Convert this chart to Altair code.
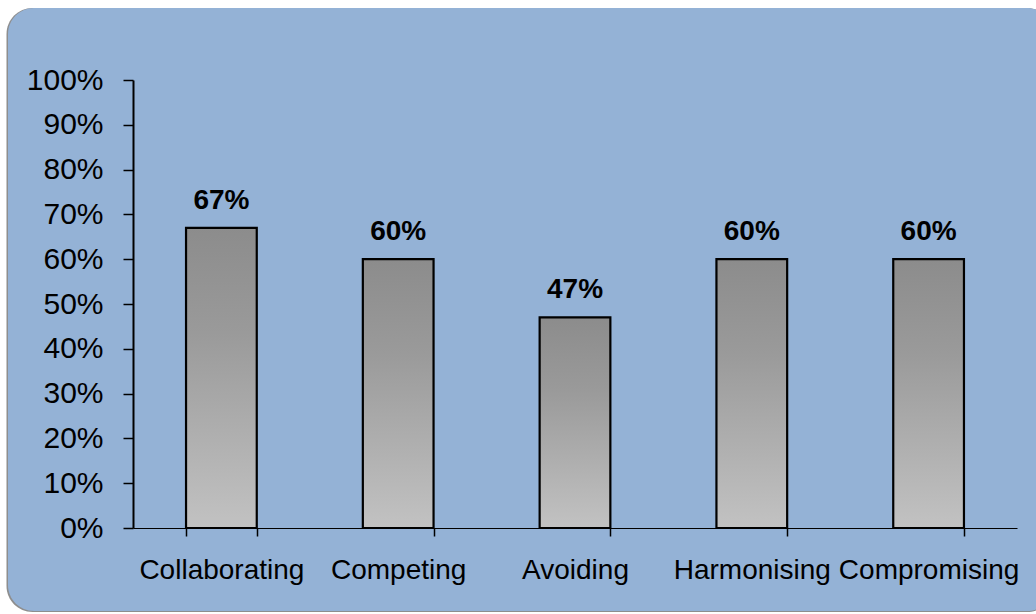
import altair as alt
import pandas as pd

# Conflict-handling styles and the share of respondents using each
styles = ["Collaborating", "Competing", "Avoiding", "Harmonising", "Compromising"]
shares = [0.67, 0.60, 0.47, 0.60, 0.60]
y_ticks = [0.0, 0.1, 0.2, 0.3, 0.4, 0.5, 0.6, 0.7, 0.8, 0.9, 1.0]

df = pd.DataFrame({"style": styles, "share": shares})

FONT = "Liberation Sans"
PANEL_BLUE = "#94B2D6"

x_enc = alt.X(
    "style:N",
    sort=styles,
    scale=alt.Scale(paddingInner=0.6, paddingOuter=0.3),
    axis=alt.Axis(
        title=None, labelAngle=0, tickBand="extent", tickSize=8, tickWidth=1.5,
        domainWidth=1.2, domainColor="black", tickColor="black",
        labelFont=FONT, labelFontSize=28, labelColor="black", labelPadding=20,
        labelLimit=0, labelOverlap=False, zindex=1,
    ),
)
y_enc = alt.Y(
    "share:Q",
    scale=alt.Scale(domain=[0, 1], nice=False),
    axis=alt.Axis(
        title=None, values=y_ticks, format=".0%", grid=False, tickSize=10,
        tickWidth=1.5, domainWidth=2, domainColor="black", tickColor="black",
        labelFont=FONT, labelFontSize=30, labelColor="black", labelPadding=20,
        labelOverlap=False, zindex=1,
    ),
)

# Rounded panel behind the plot, with a thin grey shadow edge
panel_data = alt.Data(values=[{}])
shadow = alt.Chart(panel_data).mark_rect(cornerRadius=26, color="#8E8E8E").encode(
    x=alt.value(-126.5), x2=alt.value(920), y=alt.value(-72), y2=alt.value(532)
)
panel = alt.Chart(panel_data).mark_rect(cornerRadius=26, color=PANEL_BLUE).encode(
    x=alt.value(-125), x2=alt.value(920), y=alt.value(-72), y2=alt.value(531)
)

bar_fill = alt.Gradient(
    gradient="linear",
    stops=[
        alt.GradientStop(color="#8C8C8C", offset=0),
        alt.GradientStop(color="#9A9A9A", offset=0.35),
        alt.GradientStop(color="#C2C2C2", offset=1),
    ],
    x1=0, x2=0, y1=0, y2=1,
)

bars = alt.Chart(df).mark_bar(
    fill=bar_fill, stroke="black", strokeWidth=2.2
).encode(x=x_enc, y=y_enc)

labels = alt.Chart(df).mark_text(
    font=FONT, fontSize=28, fontWeight="bold", color="black",
    baseline="alphabetic", dy=-19,
).encode(x=alt.X("style:N", sort=styles), y="share:Q", text=alt.Text("share:Q", format=".0%"))

chart = alt.layer(shadow, panel, bars, labels).properties(
    width=884, height=448,
    autosize=alt.AutoSizeParams(type="none"),
    padding={"left": 133, "top": 80, "right": 19, "bottom": 86},
    background="white",
).configure_view(stroke=None, clip=False)

chart.save("out.html", embed_options={"renderer": "svg", "actions": False})
